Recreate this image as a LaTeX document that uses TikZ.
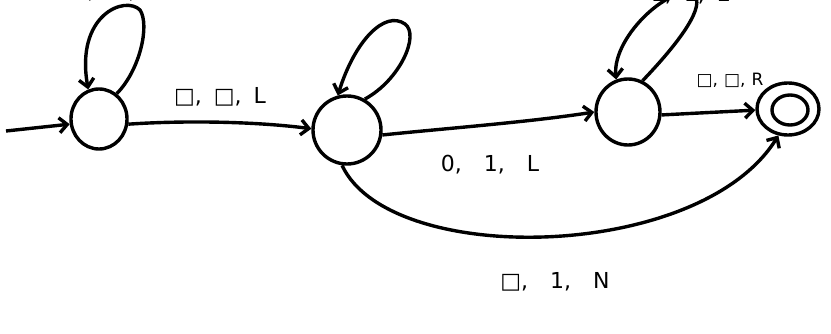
\documentclass[tikz,border=0pt]{standalone}
\usepackage{fontspec}
\setmainfont{DejaVu Sans}
\usetikzlibrary{arrows.meta,shapes.geometric}
\begin{document}
\begin{tikzpicture}[x=1pt,y=-1pt,
  st/.style={ellipse,draw,line width=3.4pt,inner sep=0pt},
  ed/.style={line width=3.4pt,-{Straight Barb[length=8pt,width=15pt,line width=3.4pt]}},
  lbl/.style={font=\fontsize{22}{26}\selectfont,inner sep=0pt},
  slbl/.style={font=\fontsize{17}{20}\selectfont,inner sep=0pt}]
\useasboundingbox (0,0) rectangle (831,334);
\clip (0,0) rectangle (831,334);
% states
\node[st,minimum width=56pt,minimum height=60pt] (q0) at (99,119) {};
\node[st,minimum width=68pt,minimum height=68pt] (q1) at (347,130) {};
\node[st,minimum width=64pt,minimum height=66pt] (q2) at (628,112) {};
\node[st,minimum width=62pt,minimum height=52pt] (q3) at (788,109) {};
\node[st,minimum width=36pt,minimum height=30pt] (q3i) at (790,110) {};
% start
\coordinate (s) at (6,131);
\draw[ed] (s) -- (q0.190);
% loops
\draw[ed] (q0.55) .. controls (140,70) and (150,25) .. (140,10) .. controls (125,-5) and (75,15) .. (q0.110);
\draw[ed] (q1.60) .. controls (400,80) and (420,35) .. (405,24) .. controls (385,10) and (355,40) .. (q1.105);
\draw[ed] (q2.65) .. controls (672,50) and (705,10) .. (695,-4) .. controls (675,-20) and (612,35) .. (q2.110);
% edges
\draw[ed] (q0.-10) .. controls (190,120) and (260,122) .. (q1.178);
\draw[ed] (q1.-8) .. controls (450,128) and (530,122) .. (q2.180);
\draw[ed] (q2.-5) -- (q3.182);
\draw[ed] (q1.262) .. controls (390,268) and (700,262) .. (q3.250);
% labels
\node[lbl] (l01) at (220,97) {□,\hspace{12pt}□,\hspace{12pt}L};
\node[lbl] (l12) at (490,165) {0,\hspace{22pt}1,\hspace{22pt}L};
\node[slbl] (l23) at (730,80) {□,\hspace{6pt}□,\hspace{6pt}R};
\node[lbl] (l13) at (555,282) {□,\hspace{22pt}1,\hspace{22pt}N};
\node[lbl] (lq0) at (122,-8) {1,\hspace{20pt}1,\hspace{20pt}R};
\node[lbl] (lq1) at (395,-11) {1,\hspace{14pt}1,\hspace{14pt}L};
\node[lbl] (lq2) at (690,-5) {1,\hspace{12pt}1,\hspace{12pt}L};
\end{tikzpicture}
\end{document}
